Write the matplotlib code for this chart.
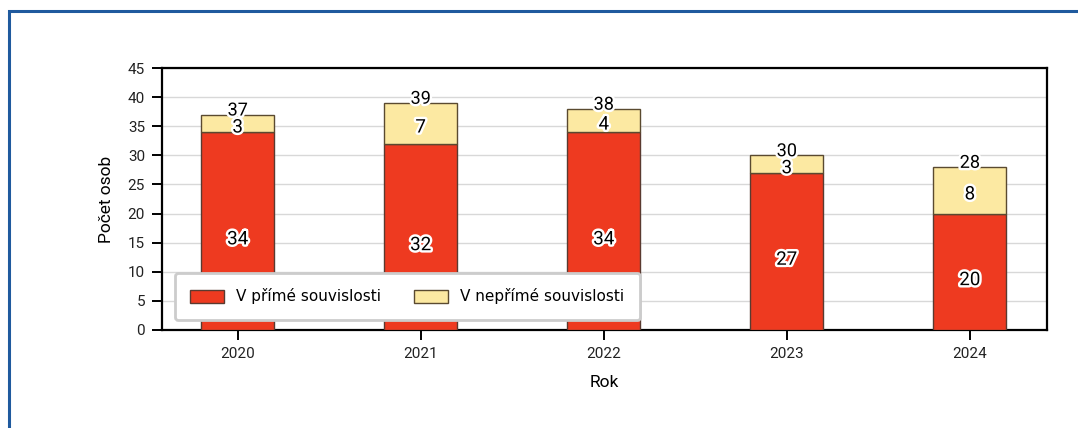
import matplotlib.pyplot as plt
import matplotlib.patheffects as pe
from matplotlib.patches import Rectangle

# data
years = ['2020', '2021', '2022', '2023', '2024']
direct = [34, 32, 34, 27, 20]
indirect = [3, 7, 4, 3, 8]
totals = [d + i for d, i in zip(direct, indirect)]

red = '#EE3A20'
yellow = '#FCE9A2'

fig = plt.figure(figsize=(10.78, 4.28), dpi=100)
ax = fig.add_axes([0.150, 0.229, 0.821, 0.612])

# blue frame round the whole thing
fig.patches.append(Rectangle((9 / 1078, -0.1), 1.2, 1 - 11 / 428 + 0.1,
                             transform=fig.transFigure, fill=False,
                             edgecolor='#1F5A9E', linewidth=2.2))

x = list(range(len(years)))
ax.bar(x, direct, width=0.4, color=red, edgecolor='#5a3a30', linewidth=1,
       label='V přímé souvislosti', zorder=3)
ax.bar(x, indirect, width=0.4, bottom=direct, color=yellow, edgecolor='#5a4a30',
       linewidth=1, label='V nepřímé souvislosti', zorder=3)

outline = [pe.withStroke(linewidth=3.5, foreground='white')]
lab_font = 'Roboto'

for xi, d, i, t in zip(x, direct, indirect, totals):
    ax.annotate(str(d), (xi, d / 2), xytext=(0, -6), textcoords='offset points',
                ha='center', va='center', fontsize=13.5, color='black',
                family=lab_font, path_effects=outline, zorder=5)
    ax.annotate(str(i), (xi, d + i / 2), xytext=(0, -3), textcoords='offset points',
                ha='center', va='center', fontsize=13.5, color='black',
                family=lab_font, path_effects=outline, zorder=5)
    ax.annotate(str(t), (xi, t), xytext=(0, -3.5), textcoords='offset points',
                ha='center', va='bottom', fontsize=13, color='black',
                family=lab_font, path_effects=outline, zorder=5)

ax.set_xlim(-0.415, 4.42)
ax.set_ylim(0, 45)
ax.set_yticks(range(0, 50, 5))
ax.set_xticks(x)
ax.set_xticklabels(years)
ax.grid(axis='y', color='#d8d8d8', linewidth=1, zorder=0)
ax.set_axisbelow(True)

for s in ax.spines.values():
    s.set_linewidth(1.6)
    s.set_color('black')
ax.tick_params(axis='both', length=7, width=1.4, labelsize=11, pad=5)
for lab in ax.get_xticklabels() + ax.get_yticklabels():
    lab.set_family(lab_font)
    lab.set_color('#222222')

ax.set_ylabel('Počet osob', fontsize=12.5, labelpad=10, family=lab_font)
ax.set_xlabel('Rok', fontsize=12.5, labelpad=10, family=lab_font)

leg = ax.legend(loc='lower left', ncol=2, fontsize=11, frameon=True,
                fancybox=True, borderpad=1.0, handlelength=2.2, handleheight=0.9,
                columnspacing=2.2, bbox_to_anchor=(0.006, 0.01))
leg.get_frame().set_edgecolor('#cccccc')
leg.get_frame().set_linewidth(2)
leg.get_frame().set_alpha(1)
leg.set_zorder(6)

fig.savefig('out.png', dpi=100)
